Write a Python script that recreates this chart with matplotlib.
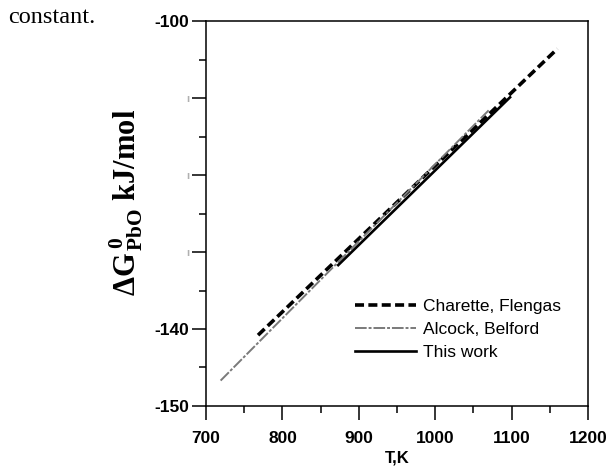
# Standard Gibbs energy of PbO formation vs temperature
import matplotlib.pyplot as plt
from matplotlib.ticker import MultipleLocator, FixedLocator

# ── Data (end points of the straight-line fits)
T_charette = [768, 1160]
G_charette = [-140.8, -103.6]

T_alcock = [719, 1070]
G_alcock = [-146.7, -111.6]

T_this = [873, 1098]
G_this = [-131.7, -109.9]

x_ticks = [700, 800, 900, 1000, 1100, 1200]
y_ticks = [-150, -140, -130, -120, -110, -100]
y_labels = ["-150", "-140", "ı", "ı", "ı", "-100"]

SANS = "Liberation Sans"
SERIF = "Liberation Serif"

# serif bold maths for the axis title
plt.rcParams["mathtext.fontset"] = "custom"
plt.rcParams["mathtext.rm"] = "Liberation Serif:bold"
plt.rcParams["mathtext.bf"] = "Liberation Serif:bold"
plt.rcParams["mathtext.it"] = "Liberation Serif:bold"

fig = plt.figure(figsize=(6.08, 4.68), dpi=100)
ax = fig.add_axes([0.339, 0.1325, 0.628, 0.8225])

ax.plot(T_charette, G_charette, color="black", linewidth=2.6,
        dashes=(2.5, 1.2), label="Charette, Flengas", solid_capstyle="butt")
ax.plot(T_alcock, G_alcock, color="#7a7a7a", linewidth=1.4,
        dashes=(6, 1, 1.5, 1), label="Alcock, Belford")
ax.plot(T_this, G_this, color="black", linewidth=1.9, label="This work")

ax.set_xlim(700, 1200)
ax.set_ylim(-150, -100)

ax.xaxis.set_major_locator(FixedLocator(x_ticks))
ax.xaxis.set_minor_locator(MultipleLocator(50))
ax.yaxis.set_major_locator(FixedLocator(y_ticks))
ax.yaxis.set_minor_locator(MultipleLocator(5))
ax.set_xticklabels([str(v) for v in x_ticks])
ax.set_yticklabels(y_labels)

ax.tick_params(which="major", direction="out", length=10, width=1.1,
               labelsize=12.5)
ax.tick_params(which="minor", direction="out", length=5, width=1.1)
ax.tick_params(axis="x", which="major", pad=8)
ax.tick_params(axis="y", which="major", pad=2)
ax.tick_params(top=False, right=False, which="both")

for lbl in ax.get_xticklabels() + ax.get_yticklabels():
    lbl.set_fontfamily(SANS)
    lbl.set_fontweight("bold")
for lbl, txt in zip(ax.get_yticklabels(), y_labels):
    if txt == "ı":
        lbl.set_color("#b0b0b0")
        lbl.set_fontsize(8)

for side in ["left", "right", "top", "bottom"]:
    ax.spines[side].set_linewidth(1.1)

ax.set_xlabel("T,K", fontfamily=SANS, fontweight="bold", fontsize=12,
              labelpad=3)
ax.set_ylabel(r"$\Delta G^{\,0}_{\,PbO}$ kJ/mol", fontfamily=SERIF,
              fontweight="bold", fontsize=22)
ax.yaxis.set_label_coords(-0.16, 0.53)

leg = ax.legend(loc="upper left", bbox_to_anchor=(0.367, 0.30),
                frameon=False, fontsize=12.5, handlelength=3.5,
                handletextpad=0.45, labelspacing=0.45, borderpad=0)
for t in leg.get_texts():
    t.set_fontfamily(SANS)

fig.text(0.013, 0.985, "constant.", fontfamily=SERIF, fontsize=17.5,
         va="top", ha="left")

plt.savefig("out.png", dpi=100)
plt.close()
